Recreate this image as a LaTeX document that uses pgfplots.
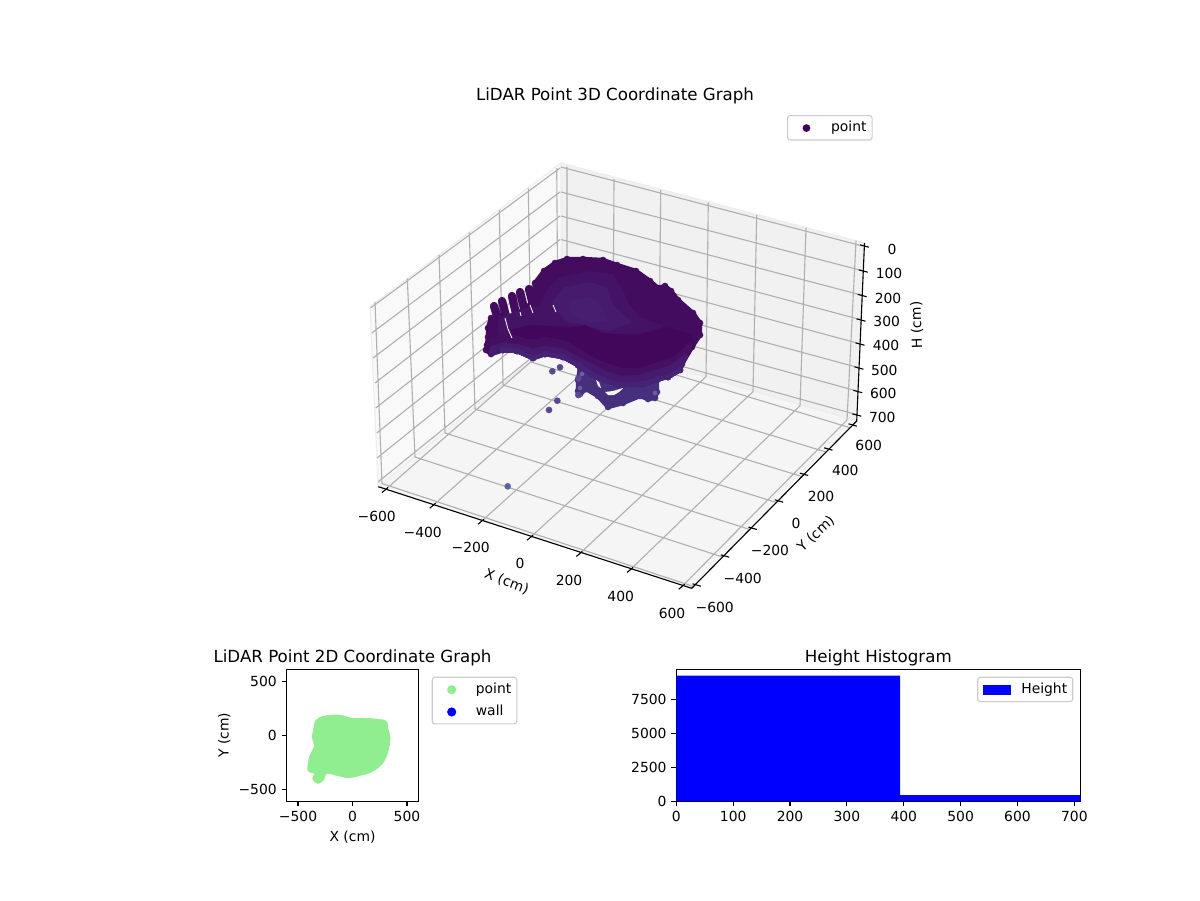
\documentclass[border=0pt]{standalone}
\usepackage{fontspec}
\setmainfont{DejaVu Sans}
\usepackage{pgfplots}
\pgfplotsset{compat=1.18}
\definecolor{gridc}{HTML}{B0B0B0}
\definecolor{c0}{HTML}{440C5F}
\definecolor{c1}{HTML}{451365}
\definecolor{c2}{HTML}{461A6C}
\definecolor{c2b}{HTML}{461F71}
\definecolor{c3}{HTML}{42065A}
\definecolor{s1}{HTML}{45105F}
\definecolor{s2}{HTML}{461A6C}
\definecolor{s3}{HTML}{462475}
\definecolor{s4}{HTML}{46307E}
\definecolor{viridis0}{HTML}{440154}
\definecolor{stA}{HTML}{5A659F}
\definecolor{stB}{HTML}{5C4892}
\definecolor{stC}{HTML}{6F5F9F}
\definecolor{lgreen}{HTML}{90EE90}
\definecolor{floorc}{HTML}{F5F5F5}
\pgfplotsset{
  clip marker paths=true,
  blob/.style={fill=#1,draw=#1,line width=3.2pt,line join=round,mark=*,mark size=2.3pt,mark options={fill=#1,draw=#1,line width=.1pt,solid},forget plot},
  soft/.style={fill=#1,draw=#1,line width=1.2pt,line join=round,no markers,forget plot},
  wide/.style={fill=#1,draw=#1,line width=3.2pt,line join=round,no markers,forget plot},
  stray/.style={only marks,mark=*,mark size=2.3pt,mark options={fill=#1,draw=#1,line width=.1pt},forget plot},
  lg/.style={draw=black!20,fill=white,fill opacity=.8,text opacity=1,rounded corners=2pt,line width=.8pt,inner sep=4pt,
    nodes={inner sep=0pt,text height=7.6pt,text depth=2pt,anchor=base west},
    row sep=6.4pt,/tikz/every odd column/.style={column sep=7.4pt}},
  mpl/.style={scale only axis,axis line style={line width=.8pt,black},
    major tick length=3.5pt,tick align=outside,every tick/.style={black,line width=.8pt},
    tick pos=lower,minor tick num=0,
    tick label style={font=\fontsize{10}{12}\selectfont},
    label style={font=\fontsize{10}{12}\selectfont},
    title style={font=\fontsize{12}{14}\selectfont,yshift=-7pt}},
}
\begin{document}
\begin{tikzpicture}
\path[use as bounding box,fill=white] (0,0) rectangle (864pt,648pt);
\begin{axis}[at={(0,0)},anchor=south west,width=864pt,height=648pt,scale only axis,
  xmin=0,xmax=1200,ymin=0,ymax=900,y dir=reverse,hide axis,clip=false,unbounded coords=jump,
  legend style={lg,at={(787/1200,1-115/900)},anchor=north west},
  legend image code/.code={\path[draw=none,fill=none] (0pt,-2pt) rectangle (20pt,6pt);\path[#1,draw=none,fill opacity=1] (9.6pt,2.6pt) circle (2.8pt);}]
% panes
\addplot[fill=black!2.5,draw=black!7,line width=.8pt,forget plot] coordinates {(378.3,486.7)(370,306.7)(561,163)(562,335)} --cycle;
\addplot[fill=black!5.5,draw=black!7,line width=.8pt,forget plot] coordinates {(562,335)(561,163)(864.5,243)(856.7,421)} --cycle;
\addplot[fill=black!4,draw=black!7,line width=.8pt,forget plot] coordinates {(378.3,486.7)(691.7,588.3)(856.7,421)(562,335)} --cycle;
% grid
\addplot[gridc,line width=.8pt,forget plot] coordinates {
(382,483.5)(693.5,586.5)(nan,nan)(415,457)(722.5,557)(nan,nan)(445,433)(750,529.5)(nan,nan)(475,409)(776.5,502.5)(nan,nan)
(503,385)(802,476.5)(nan,nan)(531,362)(826,452)(nan,nan)(558,339)(850,427.7)(nan,nan)
(385,490)(567,330)(nan,nan)(432.7,505.7)(613,346)(nan,nan)(481,521.7)(659,361.5)(nan,nan)(530,537.7)(706,376.7)(nan,nan)
(579.3,554)(753,391.7)(nan,nan)(630,570)(800,405.7)(nan,nan)(681.7,586.7)(847,420)(nan,nan)
(382,483.5)(375,302)(nan,nan)(415,457)(407.3,278.3)(nan,nan)(445,433)(439,255)(nan,nan)(475,409)(469.3,232.3)(nan,nan)
(503,385)(499.3,210)(nan,nan)(531,362)(528.3,188.3)(nan,nan)(558,339)(556.7,168.3)(nan,nan)
(370.5,308)(560,168)(nan,nan)(371.7,333)(560,192)(nan,nan)(373,358)(560,216)(nan,nan)(375,383)(560,239.5)(nan,nan)
(375.7,408)(561,263)(nan,nan)(376.7,433)(561,287)(nan,nan)(377,458)(561,310)(nan,nan)(378,482)(562,333)(nan,nan)
(567,166.7)(567,330)(nan,nan)(614,179)(613,346)(nan,nan)(660.7,190)(659,361.5)(nan,nan)(708.3,202.3)(706,376.7)(nan,nan)
(756.7,215)(753,391.7)(nan,nan)(806,227.7)(800,405.7)(nan,nan)(856,240.7)(847,420)(nan,nan)
(561,167)(862.5,246)(nan,nan)(561,192)(862,270.6)(nan,nan)(561,216)(861,295)(nan,nan)(561,239.5)(860,319.5)(nan,nan)
(561,263)(859,343.5)(nan,nan)(561,287)(858,367.5)(nan,nan)(561,310)(857,391)(nan,nan)(562,333)(856,414.5)
};
% axis lines
\addplot[black,line width=.8pt,forget plot] coordinates {(378.3,486.7)(691.7,588.3)(856.7,421)(864.5,243)};
% ticks
\addplot[black,line width=.8pt,forget plot] coordinates {
(382,492.5)(388,487.5)(nan,nan)(429.7,508.2)(435.7,503.2)(nan,nan)(478,524.2)(484,519.2)(nan,nan)(527,540.2)(533,535.2)(nan,nan)
(576.3,556.5)(582.3,551.5)(nan,nan)(627,572.5)(633,567.5)(nan,nan)(678.7,589.2)(684.7,584.2)(nan,nan)
(692.5,583.8)(700.9,586.2)(nan,nan)(720.8,554.8)(729.2,557.2)(nan,nan)(748.5,527.1)(756.9,529.5)(nan,nan)(774.8,499.8)(783.2,502.2)(nan,nan)
(799.8,473.1)(808.2,475.5)(nan,nan)(824.1,447.8)(832.5,450.2)(nan,nan)(848.5,423.8)(856.9,426.2)(nan,nan)
(859.9,244.8)(868.9,247.2)(nan,nan)(858.7,269.8)(867.7,272.2)(nan,nan)(857.6,294.3)(866.6,296.7)(nan,nan)(856.5,318.8)(865.5,321.2)(nan,nan)
(855.5,342.8)(864.5,345.2)(nan,nan)(854.4,366.8)(863.4,369.2)(nan,nan)(853.3,390.3)(862.3,392.7)(nan,nan)(852.3,413.8)(861.3,416.2)
};
% lower bowl
\addplot[blob=s4] coordinates {(580,368)(578,380)(578,391)(580,394)(586,389)(598,396)(608,407)(623,403)(640,396)(648,399)(655,398)(657,392)(657,380)(670,375)(640,360)(600,360)} --cycle;
% main blob
\addplot[blob=c0] coordinates {(535,283)(544,271)(555,263)(567,259)(583,259)(603,260)(617,265)(636,271)(650,281)(658,288)(665,286)(671,291)(678,300)(693,313)(700,323)(700,335)(692,347)(682,364)(680,370)(668,377)(658,379)(643,384)(620,385)(604,380)(592,374)(578,365)(563,357)(545,354)(533,358)(517,351)(503,350)(495,351)(491,354)(486,350)(487,345)(488,337)(488,328)(491,318)(498,324)(507,320)(516,314)(525,310)(533,300)} --cycle;
% fingers
\addplot[c0,line width=6pt,line cap=round,forget plot] coordinates {(494,306)(500,326)(nan,nan)(502,301)(508,324)(nan,nan)(512,296)(517,318)(nan,nan)(520,292)(525,312)(nan,nan)(529,289)(533,305)};
% inner bowl and arm
\addplot[soft=c1] coordinates {(498,320)(520,310)(540,306)(548,290)(560,278)(590,272)(612,275)(622,290)(628,305)(640,318)(662,326)(640,333)(610,334)(590,330)(575,325)(550,325)(520,330)(500,336)} --cycle;
\addplot[soft=c2] coordinates {(553,302)(565,288)(590,283)(606,288)(612,305)(630,322)(610,330)(585,325)(565,320)} --cycle;
\addplot[soft=c2b] coordinates {(570,302)(590,298)(600,305)(606,320)(590,322)(572,315)} --cycle;
% front rim
\addplot[soft=c3] coordinates {(512,330)(530,326)(555,327)(570,329)(585,326)(603,334)(637,336)(660,330)(668,328)(690,335)(695,345)(680,360)(640,370)(610,365)(585,352)(560,345)(540,338)(515,338)} --cycle;
% lighter bottom strips
\addplot[wide=s1] coordinates {(690,345)(676,358)(655,365)(640,370)(620,370)(603,364)(590,358)(578,350)(563,342)(545,339)(533,343)(517,338)(503,336)(492,340)(491,354)(503,350)(517,351)(533,358)(545,354)(563,357)(578,365)(592,374)(604,380)(620,385)(643,384)(658,379)(668,377)(680,370)(682,364)} --cycle;
\addplot[wide=s2] coordinates {(686,356)(670,368)(655,372)(640,377)(620,378)(605,373)(592,366)(578,359)(563,351)(545,348)(533,351)(517,346)(503,345)(492,348)(491,354)(503,350)(517,351)(533,358)(545,354)(563,357)(578,365)(592,374)(604,380)(620,385)(643,384)(658,379)(668,377)(680,370)(682,364)} --cycle;
\addplot[blob=s3] coordinates {(680,370)(668,377)(658,379)(643,384)(620,385)(604,380)(592,374)(578,365)(563,357)(545,354)(533,358)(517,351)(503,350)(503,350)(517,351)(533,358)(545,354)(563,357)(578,365)(592,374)(604,380)(620,385)(643,384)(658,379)(668,377)} --cycle;
% holes and slits
\addplot[fill=floorc,draw=none,forget plot] coordinates {(596,380)(599,382)(601,388)(598,386)} --cycle;
\addplot[fill=floorc,draw=none,forget plot] coordinates {(605,392)(613,391)(623,388)(619,392)(614,395)(608,395)} --cycle;
\addplot[white,line width=.6pt,forget plot] coordinates {(505,318)(508,329)(512,338)(nan,nan)(520,312)(521,316)(nan,nan)(530,305)(533,313)(nan,nan)(553,305)(556,312)};
% stray points
\addplot[stray=stA] coordinates {(507.7,486.3)};
\addplot[stray=stB] coordinates {(549,410)(557.3,400.7)(552.3,371.3)(560,367.3)(578.3,378.3)(578.3,395)};
\addplot[stray=stC,mark size=1.6pt] coordinates {(580,388)(582,374)(655,393)};
% texts
\node[font=\fontsize{12}{14}\selectfont] at (axis cs:615,96) {LiDAR Point 3D Coordinate Graph};
\node at (axis cs:376.7,516.7) {−600};
\node at (axis cs:422.7,532.3) {−400};
\node at (axis cs:470.7,547.3) {−200};
\node at (axis cs:520,563.3) {0};
\node at (axis cs:569,580.7) {200};
\node at (axis cs:620.7,596) {400};
\node at (axis cs:672,613.3) {600};
\node at (axis cs:714.7,607.3) {−600};
\node at (axis cs:742.7,578) {−400};
\node at (axis cs:770,550) {−200};
\node at (axis cs:796,523.3) {0};
\node at (axis cs:821,496.7) {200};
\node at (axis cs:845.3,470) {400};
\node at (axis cs:868.7,445.3) {600};
\node at (axis cs:892,249) {0};
\node at (axis cs:889,273) {100};
\node at (axis cs:888,298) {200};
\node at (axis cs:886.7,321.7) {300};
\node at (axis cs:886,345.5) {400};
\node at (axis cs:884.3,370) {500};
\node at (axis cs:883.3,393) {600};
\node at (axis cs:882.3,417.3) {700};
\node[rotate=-21] at (axis cs:506.7,581.7) {X (cm)};
\node[rotate=43] at (axis cs:816,534) {Y (cm)};
\node[rotate=92] at (axis cs:917,325) {H (cm)};
\addlegendimage{fill=viridis0}
\addlegendentry{point}
\end{axis}
% 2D panel
\begin{axis}[mpl,at={(206.28pt,71.06pt)},anchor=south west,width=95.04pt,height=95.04pt,
  xmin=-606,xmax=606,ymin=-613,ymax=613,xtick={-500,0,500},ytick={-500,0,500},
  xticklabels={−500,0,500},yticklabels={−500,0,500},
  xlabel={X (cm)},ylabel={Y (cm)},title={LiDAR Point 2D Coordinate Graph},
  ylabel style={yshift=-1pt},
  legend style={lg,at={(1.10,0.944)},anchor=north west},
  legend image code/.code={\path[draw=none,fill=none] (0pt,-2pt) rectangle (20pt,6pt);\path[#1,draw=none,fill opacity=1] (10pt,2.6pt) circle (3.3pt);}]
\addplot[smooth,tension=.55,fill=lgreen,draw=lgreen,line width=.5pt,forget plot] coordinates {
(-343,127)(-282,173)(-129,189)(-7,158)(116,158)(299,136)(324,65)(345,-28)(324,-152)(275,-261)(177,-338)(54,-376)(-37,-394)(-129,-376)(-236,-354)(-267,-416)(-319,-447)(-365,-407)(-349,-354)(-410,-323)(-389,-183)(-349,-106)(-368,-13)(-343,127)} --cycle;
\addlegendimage{fill=lgreen}
\addlegendentry{point}
\addlegendimage{fill=blue}
\addlegendentry{wall}
\end{axis}
% histogram
\begin{axis}[mpl,at={(486.94pt,71.06pt)},anchor=south west,width=290.88pt,height=95.04pt,
  xmin=0,xmax=710.5,ymin=0,ymax=9751,xtick={0,100,...,700},ytick={0,2500,5000,7500},
  /pgf/number format/assume math mode=true,/pgf/number format/set thousands separator={},
  title={Height Histogram},
  legend style={lg,at={(0.9827,0.944)},anchor=north east},
  legend image code/.code={\path[#1,draw=none,fill opacity=1,sharp corners] (0pt,-1pt) rectangle (20pt,6.2pt);}]
\addplot[ybar interval,fill=blue,draw=none,forget plot] coordinates {(0,9287)(393.4,463)(710.5,463)};
\addlegendimage{fill=blue}
\addlegendentry{Height}
\end{axis}
\end{tikzpicture}
\end{document}
